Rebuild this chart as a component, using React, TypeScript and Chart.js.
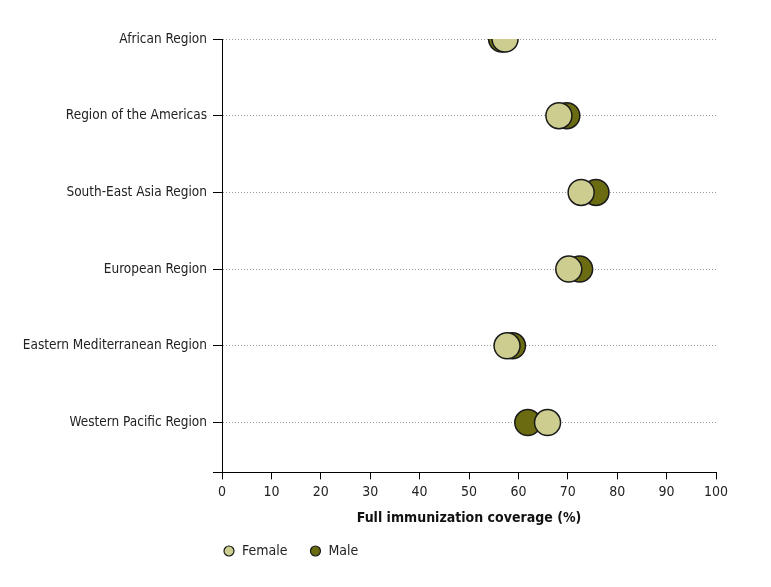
import React, { useEffect, useRef } from "react";
import { Chart, registerables } from "chart.js";

Chart.register(...registerables);

const regions = [
  "African Region",
  "Region of the Americas",
  "South-East Asia Region",
  "European Region",
  "Eastern Mediterranean Region",
  "Western Pacific Region",
];
const femaleValues = [57.3, 68.2, 72.7, 70.2, 57.7, 65.9];
const maleValues = [56.6, 69.8, 75.7, 72.4, 58.8, 61.9];
const xTicks = [0, 10, 20, 30, 40, 50, 60, 70, 80, 90, 100];
const xTitle = "Full immunization coverage (%)";
const legendLabels = ["Female", "Male"];

const FEMALE = "#cdcd8f";
const MALE = "#6b6b12";
const FONT = "'Liberation Sans Narrow', 'DejaVu Sans Condensed', 'Arial Narrow', sans-serif";

const legendPlugin = {
  id: "customLegend",
  afterDraw(chart: any) {
    const ctx = chart.ctx;
    const left = chart.chartArea.left;
    const y = 551;
    ctx.save();
    ctx.font = `14px ${FONT}`;
    ctx.textBaseline = "middle";
    ctx.textAlign = "left";
    let x = left + 7;
    const colors = [FEMALE, MALE];
    legendLabels.forEach((lab, i) => {
      ctx.beginPath();
      ctx.arc(x, y, 5, 0, Math.PI * 2);
      ctx.fillStyle = colors[i];
      ctx.fill();
      ctx.lineWidth = 1.2;
      ctx.strokeStyle = "#1a1a1a";
      ctx.stroke();
      ctx.fillStyle = "#222";
      ctx.fillText(lab, x + 13, y);
      x += 13 + ctx.measureText(lab).width + 28;
    });
    ctx.restore();
  },
};

export default function App() {
  const ref = useRef<HTMLCanvasElement>(null);
  useEffect(() => {
    document.body.style.margin = "0";
    const n = regions.length;
    const toPoints = (vals: number[]) => vals.map((v, i) => ({ x: v, y: n - i }));
    const chart = new Chart(ref.current!, {
      type: "scatter",
      data: {
        datasets: [
          {
            label: legendLabels[0],
            data: toPoints(femaleValues),
            backgroundColor: FEMALE,
            borderColor: "#1a1a1a",
            borderWidth: 1.5,
            pointRadius: 13,
            pointHoverRadius: 13,
          },
          {
            label: legendLabels[1],
            data: toPoints(maleValues),
            backgroundColor: MALE,
            borderColor: "#1a1a1a",
            borderWidth: 1.5,
            pointRadius: 13,
            pointHoverRadius: 13,
          },
        ],
      },
      options: {
        animation: false,
        responsive: false,
        maintainAspectRatio: false,
        layout: { padding: { top: 39, right: 55, bottom: 57, left: 0 } },
        plugins: { legend: { display: false }, tooltip: { enabled: false } },
        scales: {
          x: {
            type: "linear",
            min: 0,
            max: 100,
            afterBuildTicks: (scale: any) => {
              scale.ticks = xTicks.map((v) => ({ value: v }));
            },
            ticks: {
              color: "#222",
              font: { family: FONT, size: 14 },
              padding: 5,
              maxRotation: 0,
            },
            grid: {
              drawOnChartArea: false,
              drawTicks: true,
              tickLength: 7,
              tickColor: "#000",
              tickWidth: 1,
            },
            border: { display: true, color: "#000", width: 1 },
            title: {
              display: true,
              text: xTitle,
              color: "#111",
              font: { family: FONT, size: 14, weight: "bold" },
              padding: { top: 4, bottom: 3 },
            },
          },
          y: {
            type: "linear",
            min: 0.35,
            max: n,
            afterBuildTicks: (scale: any) => {
              const t = [{ value: 0.35 }];
              for (let i = 1; i <= n; i++) t.push({ value: i });
              scale.ticks = t;
            },
            afterFit: (scale: any) => {
              scale.width = 222;
            },
            ticks: {
              color: "#222",
              font: { family: FONT, size: 13.5 },
              padding: 6,
              callback: (v: any) => (v < 1 ? "" : regions[n - v]),
            },
            grid: {
              color: (c: any) => (c.tick && c.tick.value < 1 ? "rgba(0,0,0,0)" : "#9a9a9a"),
              lineWidth: 1,
              drawTicks: true,
              tickLength: 9,
              tickColor: "#000",
              tickWidth: 1,
              tickBorderDash: [],
            } as any,
            border: { display: true, color: "#000", width: 1, dash: [1, 2] },
          },
        },
      } as any,
      plugins: [legendPlugin],
    });
    return () => chart.destroy();
  }, []);
  return (
    <div style={{ position: "fixed", left: 0, top: 0, width: 771, height: 587, background: "#fff" }}>
      <canvas ref={ref} width={771} height={587} style={{ width: 771, height: 587 }} />
    </div>
  );
}
